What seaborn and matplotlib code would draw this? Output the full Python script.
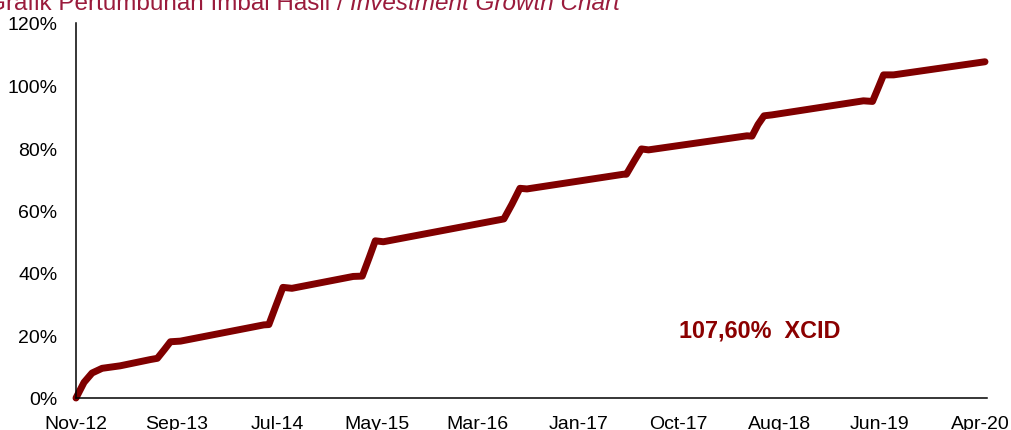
import numpy as np
import pandas as pd
import seaborn as sns
import matplotlib.pyplot as plt

# Investment growth chart (cumulative return, %)
sns.set_style("white")
plt.rcParams["font.family"] = ["Liberation Sans", "DejaVu Sans"]

# months since Nov-12 and cumulative return
months = [0, 0.8, 1.6, 2.6, 4.4, 7.4, 8.1, 8.8, 9.4, 10.4,
          18.7, 19.2, 19.9, 20.6, 21.5, 27.6, 28.5, 29.2, 29.8, 30.6,
          42.6, 43.4, 44.2, 44.9, 54.5, 54.8, 55.6, 56.3, 57.0,
          66.8, 67.3, 67.9, 68.5, 69.3, 78.4, 79.3, 79.9, 80.4, 81.4, 90.5]
growth = [0, 5.0, 8.0, 9.5, 10.3, 12.3, 12.7, 15.5, 18.0, 18.2,
          23.4, 23.5, 29.5, 35.4, 35.1, 38.9, 39.0, 45.0, 50.3, 50.0,
          57.3, 62.0, 67.1, 66.9, 71.6, 71.6, 76.0, 79.7, 79.4,
          83.9, 83.8, 87.5, 90.3, 90.6, 95.1, 94.9, 99.5, 103.4, 103.4, 107.6]

tick_months = [0, 10, 20, 30, 40, 50, 60, 70, 80, 90]
tick_labels = ["Nov-12", "Sep-13", "Jul-14", "May-15", "Mar-16",
               "Jan-17", "Oct-17", "Aug-18", "Jun-19", "Apr-20"]
y_ticks = [0, 20, 40, 60, 80, 100, 120]

final_label = "107,60%  XCID"
title_main = "Grafik Pertumbuhan Imbal Hasil / "
title_en = "Investment Growth Chart"

df = pd.DataFrame({"month": months, "growth": growth})

fig = plt.figure(figsize=(10.12, 4.31), dpi=100)
ax = fig.add_axes([76 / 1012, 1 - 399 / 431, (987 - 76) / 1012, (399 - 24) / 431])

sns.lineplot(data=df, x="month", y="growth", ax=ax, color="#800000",
             linewidth=5.0, solid_joinstyle="round", solid_capstyle="round",
             clip_on=False)

ax.set_xlim(0, 90.7)
ax.set_ylim(0, 120)
ax.set_xticks(tick_months)
ax.set_xticklabels(tick_labels)
ax.set_yticks(y_ticks)
ax.set_yticklabels([f"{v}%" for v in y_ticks])
ax.set_xlabel("")
ax.set_ylabel("")

for side in ["top", "right"]:
    ax.spines[side].set_visible(False)
for side in ["left", "bottom"]:
    ax.spines[side].set_color("black")
    ax.spines[side].set_linewidth(1.1)

ax.tick_params(axis="both", direction="inout", length=8.6, width=1.0,
               color="#a0a0a0", labelsize=14, labelcolor="black")
ax.tick_params(axis="x", pad=8.0)
ax.tick_params(axis="y", pad=9)

ax.text(60, 21.8, final_label, color="#8B0000", fontsize=16.8,
        fontweight="bold", ha="left", va="center")

# title, partly cut off at the top edge like the original
title_y = 1 - 10 / 431
t_en = fig.text(620 / 1012, title_y, title_en, color="#9A1B3C",
                fontsize=17.5, fontstyle="italic", ha="right", va="baseline")
fig.canvas.draw()
left_px = t_en.get_window_extent().x0
fig.text(left_px / fig.bbox.width, title_y, title_main, color="#9A1B3C",
         fontsize=17.5, ha="right", va="baseline")

fig.savefig("out.png", dpi=100)
